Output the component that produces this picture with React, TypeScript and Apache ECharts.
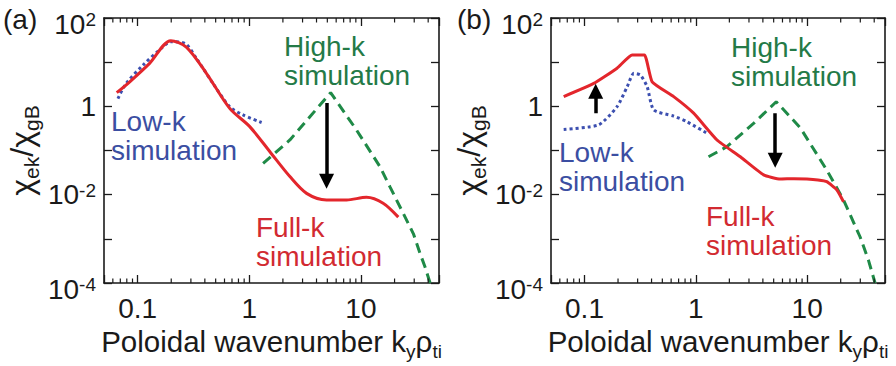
import React, { useEffect, useRef } from "react";
import * as echarts from "echarts";

// ---------- data ----------
const X_MIN = 0.05;
const X_MAX = 50;
const Y_MIN = 1e-4;
const Y_MAX = 1e2;

const xTickValues = [0.1, 1, 10];
const xTickLabels = ["0.1", "1", "10"];
const xMinorTicks = [0.06, 0.07, 0.08, 0.09, 0.2, 0.3, 0.4, 0.5, 0.6, 0.7, 0.8, 0.9, 2, 3, 4, 5, 6, 7, 8, 9, 20, 30, 40];
const yTickValues = [1e2, 1, 1e-2, 1e-4];
const yTickBase = ["10", "1", "10", "10"];
const yTickExp = ["2", "", "-2", "-4"];

// Panel (a)
const aFullX = [0.065, 0.085, 0.128, 0.198, 0.273, 0.413, 0.668, 1.01, 1.53, 2.31, 3.26, 4.92, 7.44, 11.2, 15.8, 21.6];
const aFullY = [2.04, 3.6, 9.4, 30.6, 22, 5.6, 0.9, 0.347, 0.094, 0.0257, 0.0107, 0.0076, 0.0076, 0.0087, 0.0064, 0.0031];
const aLowX = [0.0666, 0.079, 0.112, 0.163, 0.2, 0.264, 0.336, 0.473, 0.668, 0.879, 1.29];
const aLowY = [1.49, 3.3, 8.6, 20.6, 29.1, 26.7, 12.2, 3.3, 0.98, 0.64, 0.43];
const aHighX = [1.33, 2.31, 3.49, 5.35, 9.14, 14.8, 18.2, 23.9, 29.5, 33.8, 37.5, 41.6];
const aHighY = [0.051, 0.173, 0.58, 2.04, 0.29, 0.043, 0.015, 0.0038, 0.0013, 4.7e-4, 2.3e-4, 1.0e-4];
const aArrowDown = [[4.92, 1.19], [4.92, 0.02]];

// Panel (b)
const bFullX = [0.065, 0.121, 0.196, 0.268, 0.345, 0.405, 0.632, 0.955, 1.55, 2.51, 4.06, 5.73, 7.6, 9.94, 12.5, 15.0, 18.5, 21.2];
const bFullY = [1.66, 3.3, 7.3, 14.5, 14.5, 3.6, 1.66, 0.7, 0.173, 0.072, 0.028, 0.0226, 0.023, 0.0226, 0.0215, 0.0197, 0.0128, 0.0069];
const bLowX = [0.065, 0.134, 0.196, 0.242, 0.277, 0.318, 0.365, 0.418, 0.632, 0.83, 1.26];
const bLowY = [0.3, 0.38, 0.98, 2.8, 5.6, 5.1, 2.8, 0.83, 0.6, 0.45, 0.245];
const bHighX = [1.3, 1.9, 3.3, 5.27, 8.65, 15.0, 21.2, 29.9, 35.5, 40.7];
const bHighY = [0.072, 0.122, 0.41, 1.27, 0.33, 0.036, 0.0076, 0.0011, 3.3e-4, 1.0e-4];
const bArrowDown = [[5.16, 0.695], [5.16, 0.06]];
const bArrowUp = [[0.126, 0.695], [0.126, 2.2]];

// ---------- styles ----------
const FONT = '"Liberation Sans", Arial, Helvetica, sans-serif';
const INK = "#1a1a1a";
const RED = "#e3262c";
const RED_TEXT = "#d22a31";
const BLUE = "#3c4fb0";
const BLUE_TEXT = "#3b4ea2";
const GREEN = "#1f8a47";
const GREEN_TEXT = "#247a47";

const pairs = (xs: number[], ys: number[]) => xs.map((x, i) => [x, ys[i]]);

const isDecade = (v: number) => {
  const l = Math.log10(v);
  return Math.abs(l - Math.round(l)) < 1e-6;
};

const xLabelFormatter = (v: number) => {
  if (!isDecade(v)) return "";
  const i = xTickValues.findIndex((t) => Math.abs(Math.log10(t) - Math.log10(v)) < 1e-6);
  return i >= 0 ? xTickLabels[i] : "";
};

const yLabelFormatter = (v: number) => {
  if (!isDecade(v)) return "";
  const i = yTickValues.findIndex((t) => Math.abs(Math.log10(t) - Math.log10(v)) < 1e-6);
  if (i < 0) return "";
  const edge = i === 0 || i === yTickValues.length - 1;
  const b = edge ? "bd" : "b";
  const s = edge ? "sd" : "s";
  return yTickExp[i] ? `{${b}|${yTickBase[i]}}{${s}|${yTickExp[i]}}` : `{${b}|${yTickBase[i]}}`;
};

const axisLine = { show: true, onZero: false, lineStyle: { color: INK, width: 1.6 } };

const makeXAxes = (gridIndex: number) => [
  {
    type: "log",
    logBase: 10,
    gridIndex,
    min: X_MIN,
    max: X_MAX,
    position: "bottom",
    axisLine,
    axisTick: { show: true, inside: true, length: 8, lineStyle: { color: INK, width: 1.3 } },
    axisLabel: { show: true, margin: 11, fontSize: 28, color: INK, fontFamily: FONT, formatter: xLabelFormatter },
    splitLine: { show: false },
    name: "{b|Poloidal wavenumber k}{s|y}{b|ρ}{s|ti}",
    nameLocation: "middle",
    nameGap: 40,
    nameTextStyle: {
      color: INK,
      fontFamily: FONT,
      fontSize: 29.5,
      rich: {
        b: { fontSize: 29.5, fontFamily: FONT, color: INK, verticalAlign: "top", padding: [0, 0, 4, 0] },
        s: { fontSize: 19, fontFamily: FONT, color: INK, verticalAlign: "bottom" },
      },
    },
  },
  {
    type: "log",
    logBase: 10,
    gridIndex,
    min: X_MIN,
    max: X_MAX,
    position: "top",
    axisLine,
    axisTick: { show: true, inside: true, length: 8, lineStyle: { color: INK, width: 1.3 } },
    axisLabel: { show: false },
    splitLine: { show: false },
  },
];

const makeYAxes = (gridIndex: number) => [
  {
    type: "log",
    logBase: 10,
    gridIndex,
    min: Y_MIN,
    max: Y_MAX,
    position: "left",
    axisLine,
    axisTick: { show: true, inside: true, length: 8, lineStyle: { color: INK, width: 1.3 } },
    axisLabel: {
      show: true,
      margin: 8,
      color: INK,
      fontFamily: FONT,
      fontSize: 28,
      formatter: yLabelFormatter,
      rich: {
        b: { fontSize: 28, fontFamily: FONT, color: INK },
        s: { fontSize: 19, fontFamily: FONT, color: INK, verticalAlign: "top" },
        bd: { fontSize: 28, fontFamily: FONT, color: INK, padding: [12, 0, 0, 0] },
        sd: { fontSize: 19, fontFamily: FONT, color: INK, verticalAlign: "top", padding: [12, 0, 0, 0] },
      },
    },
    splitLine: { show: false },
    name: "{c|χ}{e|ek}{c|/χ}{e|gB}",
    nameLocation: "middle",
    nameRotate: 90,
    nameGap: 62,
    nameTextStyle: {
      color: INK,
      fontFamily: FONT,
      fontSize: 30,
      rich: {
        c: { fontSize: 32, fontFamily: FONT, color: INK, verticalAlign: "top", padding: [0, 0, 4, 0] },
        e: { fontSize: 21, fontFamily: FONT, color: INK, verticalAlign: "bottom" },
      },
    },
  },
  {
    type: "log",
    logBase: 10,
    gridIndex,
    min: Y_MIN,
    max: Y_MAX,
    position: "right",
    axisLine,
    axisTick: { show: true, inside: true, length: 8, lineStyle: { color: INK, width: 1.3 } },
    axisLabel: { show: false },
    splitLine: { show: false },
  },
];

const minorTickSeries = (xi: number, yi: number) => ({
  type: "custom",
  xAxisIndex: xi,
  yAxisIndex: yi,
  silent: true,
  clip: false,
  z: 5,
  data: xMinorTicks.map((v) => [v, Y_MIN]),
  encode: { x: 0, y: 1 },
  renderItem: (_p: any, api: any) => {
    const v = api.value(0);
    const b = api.coord([v, Y_MIN]);
    const t = api.coord([v, Y_MAX]);
    const style = { stroke: INK, lineWidth: 1.2 };
    return {
      type: "group",
      children: [
        { type: "line", shape: { x1: b[0], y1: b[1], x2: b[0], y2: b[1] - 4.5 }, style },
        { type: "line", shape: { x1: t[0], y1: t[1], x2: t[0], y2: t[1] + 4.5 }, style },
      ],
    };
  },
});

const lineSeries = (xi: number, yi: number, data: number[][], color: string, type: any, smooth: any, z: number) => ({
  type: "line",
  xAxisIndex: xi,
  yAxisIndex: yi,
  data,
  showSymbol: false,
  symbol: "none",
  smooth,
  clip: true,
  z,
  lineStyle: { color, width: 3, type, cap: "butt" },
});

const arrowSeries = (xi: number, yi: number, coords: number[][][]) => ({
  type: "lines",
  coordinateSystem: "cartesian2d",
  xAxisIndex: xi,
  yAxisIndex: yi,
  z: 10,
  symbol: ["none", "triangle"],
  symbolSize: [13, 15],
  lineStyle: { color: "#000", width: 3.5, opacity: 1, curveness: 0 },
  itemStyle: { color: "#000" },
  data: coords.map((c) => ({ coords: c })),
});

// two-line annotation as a single text block
const label = (x: number, y: number, text: string, fill: string, size = 28) => ({
  type: "text",
  x,
  y,
  silent: true,
  style: { text, fill, fontSize: size, fontFamily: FONT, lineHeight: 29, align: "left", verticalAlign: "middle" },
});

export default function App() {
  const ref = useRef<HTMLDivElement>(null);
  useEffect(() => {
    document.body.style.margin = "0";
    if (!ref.current) return;
    const chart = echarts.init(ref.current, undefined, { renderer: "svg" });
    const option: any = {
      animation: false,
      backgroundColor: "#ffffff",
      grid: [
        { left: 104, top: 18, width: 335, height: 265, containLabel: false },
        { left: 551, top: 18, width: 334, height: 265, containLabel: false },
      ],
      xAxis: [...makeXAxes(0), ...makeXAxes(1)],
      yAxis: [...makeYAxes(0), ...makeYAxes(1)],
      series: [
        minorTickSeries(0, 0),
        minorTickSeries(2, 2),
        lineSeries(0, 0, pairs(aHighX, aHighY), GREEN, [10, 6], false, 2),
        lineSeries(0, 0, pairs(aLowX, aLowY), BLUE, [3, 3], 0.3, 3),
        lineSeries(0, 0, pairs(aFullX, aFullY), RED, "solid", 0.3, 4),
        arrowSeries(0, 0, [aArrowDown]),
        lineSeries(2, 2, pairs(bHighX, bHighY), GREEN, [10, 6], false, 2),
        lineSeries(2, 2, pairs(bLowX, bLowY), BLUE, [3, 3], 0.2, 3),
        lineSeries(2, 2, pairs(bFullX, bFullY), RED, "solid", 0.15, 4),
        arrowSeries(2, 2, [bArrowDown, bArrowUp]),
      ],
      graphic: [
        label(3, 19, "(a)", INK, 28),
        label(457, 19, "(b)", INK, 28),
        label(284, 61, "High-k\nsimulation", GREEN_TEXT),
        label(111, 136, "Low-k\nsimulation", BLUE_TEXT),
        label(256, 242, "Full-k\nsimulation", RED_TEXT),
        label(731, 62, "High-k\nsimulation", GREEN_TEXT),
        label(559, 167, "Low-k\nsimulation", BLUE_TEXT),
        label(706, 231, "Full-k\nsimulation", RED_TEXT),
      ],
    };
    chart.setOption(option);
    return () => chart.dispose();
  }, []);
  return <div ref={ref} style={{ width: 896, height: 366 }} />;
}
